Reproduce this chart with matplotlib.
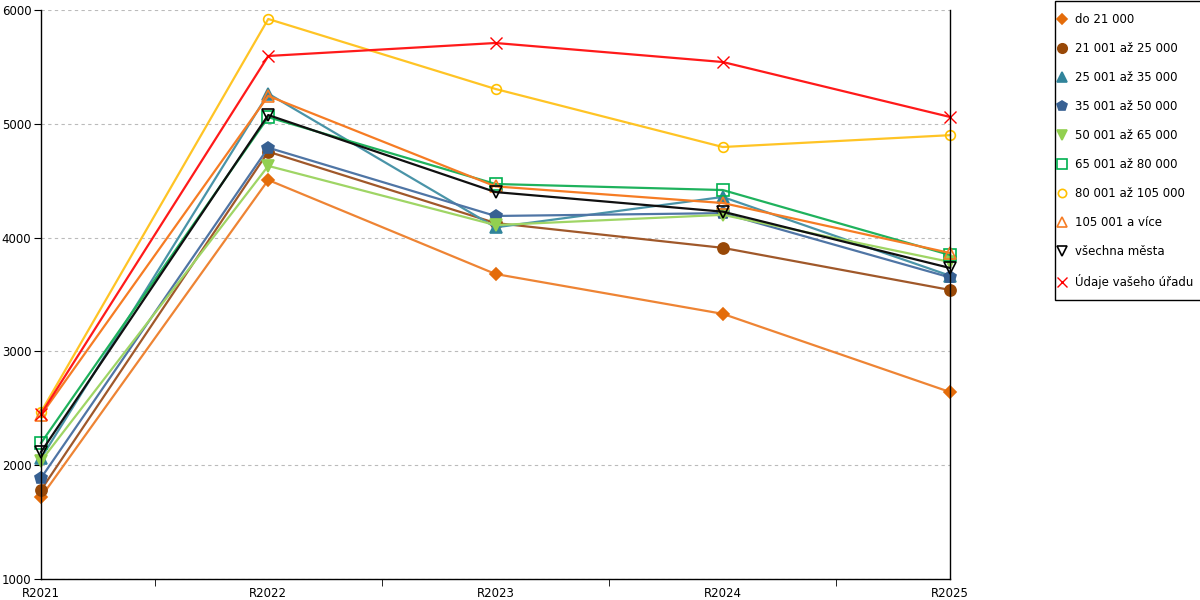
import matplotlib
matplotlib.use("Agg")
import matplotlib.pyplot as plt
from matplotlib.patches import Rectangle

years = ["R2021", "R2022", "R2023", "R2024", "R2025"]
labels = ["do 21 000", "21 001 až 25 000", "25 001 až 35 000", "35 001 až 50 000",
          "50 001 až 65 000", "65 001 až 80 000", "80 001 až 105 000", "105 001 a více",
          "všechna města", "Údaje vašeho úřadu"]
do21 = [1720, 4506, 3680, 3330, 2643]
s21_25 = [1782, 4755, 4128, 3910, 3540]
s25_35 = [2060, 5265, 4090, 4357, 3665]
s35_50 = [1887, 4790, 4190, 4215, 3650]
s50_65 = [2037, 4630, 4110, 4200, 3786]
s65_80 = [2195, 5058, 4471, 4418, 3847]
s80_105 = [2467, 5921, 5306, 4796, 4900]
s105 = [2440, 5245, 4450, 4304, 3865]
vsechna = [2116, 5077, 4400, 4228, 3733]
urad = [2450, 5596, 5710, 5543, 5060]

series = [do21, s21_25, s25_35, s35_50, s50_65, s65_80, s80_105, s105, vsechna, urad]
colors = ["#E46C0A", "#984807", "#31849B", "#376092", "#92D050", "#00B050",
          "#FFC000", "#F67C24", "#000000", "#FF0000"]
line_colors = ["#EE8434", "#A0582A", "#4A94A8", "#4F75A5", "#9FD565", "#1FB25D",
               "#FFC425", "#F67C24", "#101010", "#FF1A1A"]
markers = ["D", "o", "^", "p", "v", "s", "o", "^", "v", "x"]
filled = [True, True, True, True, True, False, False, False, False, True]
msizes = [6.5, 8, 8, 9, 8, 8, 7, 9, 8, 9]

fig = plt.figure(figsize=(12, 6), dpi=100)
ax = fig.add_axes([41/1200, 1-579/600, (950-41)/1200, (579-10)/600])
x = list(range(len(years)))
for vals, lab, c, lc, m, f, ms in zip(series, labels, colors, line_colors, markers, filled, msizes):
    ax.plot(x, vals, color=lc, lw=1.6, marker=m, markersize=ms,
            markerfacecolor=(c if f else "none"), markeredgecolor=c,
            markeredgewidth=(1.2 if m != "x" else 1.0), label=lab, clip_on=False)

ax.set_xlim(0, 4)
ax.set_ylim(1000, 6000)
ax.set_yticks([1000, 2000, 3000, 4000, 5000, 6000])
ax.set_xticks(x)
ax.set_xticklabels(years)
ax.set_xticks([0, 0.5, 1.5, 2.5, 3.5, 4], minor=True)
ax.tick_params(axis="x", which="major", length=0, labelsize=8.5, pad=6)
ax.tick_params(axis="x", which="minor", length=5, direction="out", color="black")
ax.tick_params(axis="y", length=5, labelsize=8.5, pad=2)
ax.grid(axis="y", color="#bbbbbb", linestyle=(0, (3, 3)), lw=0.8)
ax.spines["top"].set_visible(False)
for s in ["left", "right", "bottom"]:
    ax.spines[s].set_color("black")
    ax.spines[s].set_linewidth(1.0)

# legend frame drawn separately (extends past the right edge as in the reference)
fig.patches.append(Rectangle((1054.5/1200, 1-300/600), 200/1200, 299/600,
                             transform=fig.transFigure, facecolor="white",
                             edgecolor="black", lw=1.0, zorder=0))

leg = fig.legend(loc="upper left", bbox_to_anchor=(1057/1200, 1-13/600), fontsize=8.5,
                 frameon=False, labelspacing=1.36, markerscale=0.85,
                 handlelength=0.9, handletextpad=0.6, borderpad=0, borderaxespad=0)
for h in leg.legend_handles:
    h.set_linestyle("none")

fig.savefig("out.png", dpi=100)
